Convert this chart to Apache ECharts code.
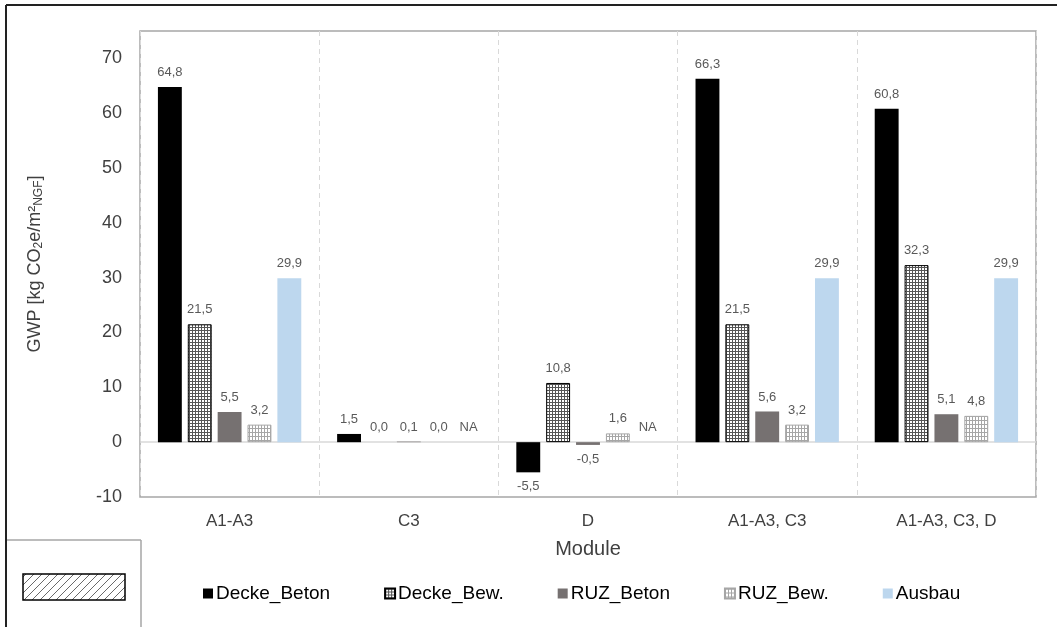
<!DOCTYPE html>
<html>
<head>
<meta charset="utf-8">
<script src="https://cdn.jsdelivr.net/npm/echarts@6/dist/echarts.min.js"></script>
<style>
html,body{margin:0;padding:0;background:#fff;}
#chart{width:1057px;height:627px;}
</style>
</head>
<body>
<div id="chart"></div>
<script>
// ---- data ----
const categories = ['A1-A3', 'C3', 'D', 'A1-A3, C3', 'A1-A3, C3, D'];
const seriesNames = ['Decke_Beton', 'Decke_Bew.', 'RUZ_Beton', 'RUZ_Bew.', 'Ausbau'];
const deckeBeton = [64.8, 1.5, -5.5, 66.3, 60.8];
const deckeBew   = [21.5, 0.0, 10.8, 21.5, 32.3];
const ruzBeton   = [5.5, 0.1, -0.5, 5.6, 5.1];
const ruzBew     = [3.2, 0.0, 1.6, 3.2, 4.8];
const ausbau     = [29.9, null, null, 29.9, 29.9]; // null = NA
const yMin = -10, yMax = 75, yStep = 10;
const yAxisTitle = 'GWP [kg CO{sub|2}e/m²{sub|NGF}]';
const xAxisTitle = 'Module';

const FONT = 'Liberation Sans, Arial, sans-serif';

function gridPattern(cellW, lineColor, cellH) {
  const w = cellW, h = cellH || cellW;
  const c = document.createElement('canvas');
  c.width = w; c.height = h;
  const ctx = c.getContext('2d');
  ctx.fillStyle = '#ffffff';
  ctx.fillRect(0, 0, w, h);
  ctx.fillStyle = lineColor;
  ctx.fillRect(0, 0, 1, h);
  ctx.fillRect(0, 0, w, 1);
  return { image: c, repeat: 'repeat' };
}
function hatchPattern() {
  const s = 8;
  const c = document.createElement('canvas');
  c.width = s; c.height = s;
  const ctx = c.getContext('2d');
  ctx.fillStyle = '#fff';
  ctx.fillRect(0, 0, s, s);
  ctx.strokeStyle = '#444';
  ctx.lineWidth = 0.8;
  ctx.beginPath();
  ctx.moveTo(0, s); ctx.lineTo(s, 0);
  ctx.moveTo(-s/2, s/2); ctx.lineTo(s/2, -s/2);
  ctx.moveTo(s/2, s*1.5); ctx.lineTo(s*1.5, s/2);
  ctx.stroke();
  return { image: c, repeat: 'repeat' };
}

const fmt = v => (v === null ? 'NA' : v.toFixed(1).replace('.', ','));

const styles = [
  { color: '#000000', borderColor: '#000000', borderWidth: 0 },
  { color: gridPattern(3, '#555555'), borderColor: '#000000', borderWidth: 1 },
  { color: '#767171', borderColor: '#767171', borderWidth: 0 },
  { color: gridPattern(3, '#a6a6a6', 4), borderColor: '#a6a6a6', borderWidth: 1 },
  { color: '#bdd7ee', borderColor: '#bdd7ee', borderWidth: 0 }
];
const allData = [deckeBeton, deckeBew, ruzBeton, ruzBew, ausbau];

const series = allData.map((arr, i) => ({
  name: seriesNames[i],
  type: 'bar',
  barGap: '25%',
  barCategoryGap: '20%',
  itemStyle: styles[i],
  data: arr.map(v => ({
    value: v === null ? 0 : v,
    itemStyle: (v === null || v === 0) ? { color: 'rgba(0,0,0,0)', borderWidth: 0, borderColor: 'rgba(0,0,0,0)' } : undefined,
    label: {
      show: true,
      position: (v !== null && v < 0) ? 'bottom' : 'top',
      formatter: () => fmt(v)
    }
  })),
  label: {
    show: true,
    distance: 8,
    fontSize: 13,
    color: '#595959',
    fontFamily: FONT
  },
  markLine: i === 0 ? {
    silent: true,
    symbol: 'none',
    label: { show: false },
    lineStyle: { color: '#d9d9d9', type: 'solid', width: 1.5 },
    data: [{ yAxis: 0 }],
    z: 1
  } : undefined
}));

const chart = echarts.init(document.getElementById('chart'), null, { renderer: 'canvas' });
chart.setOption({
  animation: false,
  backgroundColor: '#ffffff',
  textStyle: { fontFamily: FONT },
  grid: {
    left: 140, right: 21, top: 31, bottom: 130,
    show: true, borderColor: '#a6a6a6', borderWidth: 1.5
  },
  legend: {
    data: seriesNames,
    left: 198, top: 579,
    itemWidth: 10, itemHeight: 10, itemGap: 54,
    icon: 'rect',
    textStyle: { fontSize: 19, color: '#000000', fontFamily: FONT, padding: [0, 0, 0, -2] }
  },
  xAxis: {
    type: 'category',
    data: categories,
    axisLine: { show: false, onZero: false },
    axisTick: { show: false },
    axisLabel: { fontSize: 17, color: '#404040', margin: 16, fontFamily: FONT },
    splitLine: { show: true, lineStyle: { color: '#d9d9d9', type: [5, 4], width: 1 } },
    name: xAxisTitle,
    nameLocation: 'middle',
    nameGap: 42,
    nameTextStyle: { fontSize: 20, color: '#404040', fontFamily: FONT }
  },
  yAxis: {
    type: 'value',
    min: yMin, max: yMax, interval: yStep,
    axisLine: { show: false },
    axisTick: { show: false },
    splitLine: { show: false },
    axisLabel: { fontSize: 18, color: '#404040', margin: 18, showMaxLabel: false, fontFamily: FONT },
    name: yAxisTitle,
    nameLocation: 'middle',
    nameGap: 95,
    nameTextStyle: {
      fontSize: 18, color: '#404040', fontFamily: FONT,
      rich: { sub: { fontSize: 12, verticalAlign: 'bottom', padding: [8, 0, 0, 0], color: '#404040', fontFamily: FONT } }
    }
  },
  graphic: [
    { type: 'line', shape: { x1: 6, y1: 5, x2: 1057, y2: 5 }, style: { stroke: '#222', lineWidth: 2 }, silent: true },
    { type: 'line', shape: { x1: 6, y1: 5, x2: 6, y2: 627 }, style: { stroke: '#222', lineWidth: 2 }, silent: true },
    { type: 'line', shape: { x1: 7, y1: 540, x2: 141, y2: 540 }, style: { stroke: '#a6a6a6', lineWidth: 1.5 }, silent: true },
    { type: 'line', shape: { x1: 141, y1: 540, x2: 141, y2: 627 }, style: { stroke: '#a6a6a6', lineWidth: 1.5 }, silent: true },
    { type: 'rect', shape: { x: 23, y: 574, width: 102, height: 26 }, style: { fill: hatchPattern(), stroke: '#000', lineWidth: 1.5 }, silent: true }
  ],
  series: series
});
</script>
</body>
</html>
